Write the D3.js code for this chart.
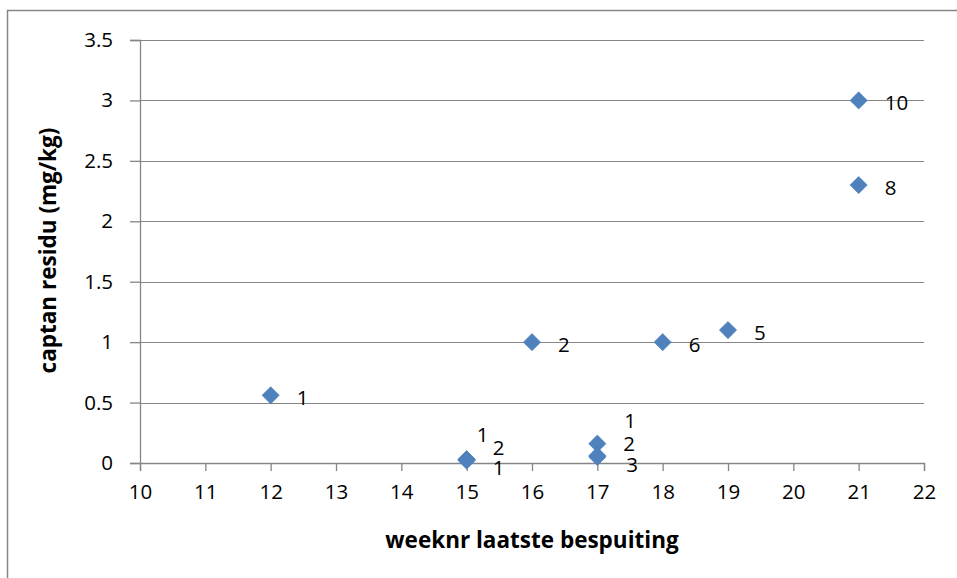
<!DOCTYPE html>
<html>
<head>
<meta charset="utf-8">
<script src="https://cdn.jsdelivr.net/npm/d3@7/dist/d3.min.js"></script>
<style>
  html, body { margin: 0; padding: 0; background: #fff; }
  svg { display: block; }
  text { font-family: "Open Sans", Lato, sans-serif; fill: #000; }
</style>
</head>
<body>
<svg id="chart" width="957" height="578"></svg>
<script>
// Week number of the last spray, captan residue (mg/kg) and number of samples
const weeks    = [12, 15, 15, 15, 16, 17, 17, 17, 18, 19, 21, 21];
const residues = [0.56, 0.03, 0.03, 0.02, 1.0, 0.16, 0.06, 0.05, 1.0, 1.1, 3.0, 2.3];
const counts   = [1, 1, 2, 1, 2, 1, 2, 3, 6, 5, 10, 8];

const xTicks = [10, 11, 12, 13, 14, 15, 16, 17, 18, 19, 20, 21, 22];
const yTicks = [0, 0.5, 1, 1.5, 2, 2.5, 3, 3.5];

const xTitle = "weeknr laatste bespuiting";
const yTitle = "captan residu (mg/kg)";

const svg = d3.select("#chart");
const W = 957, H = 578;
const plot = { left: 140, right: 924, top: 40, bottom: 463 };
const grey = "#868686";
const font = "'Open Sans', Lato, sans-serif";

// outer chart frame
svg.append("rect")
  .attr("x", 7.5).attr("y", 10.5)
  .attr("width", W + 10).attr("height", H + 10)
  .attr("fill", "none").attr("stroke", grey).attr("stroke-width", 1.5);

const x = d3.scaleLinear().domain([10, 22]).range([plot.left, plot.right]);
const y = d3.scaleLinear().domain([0, 3.5]).range([plot.bottom, plot.top]);

// horizontal gridlines
svg.append("g")
  .selectAll("line")
  .data(yTicks.filter(d => d > 0))
  .join("line")
  .attr("x1", plot.left).attr("x2", plot.right)
  .attr("y1", d => Math.round(y(d)) + 0.5).attr("y2", d => Math.round(y(d)) + 0.5)
  .attr("stroke", grey).attr("stroke-width", 1.2);

// y axis
const yAxis = svg.append("g")
  .attr("transform", `translate(${plot.left},0)`)
  .call(d3.axisLeft(y).tickValues(yTicks).tickSize(10).tickPadding(17)
    .tickFormat(d => String(d)));
yAxis.select(".domain").attr("stroke", grey).attr("stroke-width", 1.3);
yAxis.selectAll(".tick line").attr("stroke", grey).attr("stroke-width", 1.3);
yAxis.selectAll(".tick text")
  .attr("font-size", 20.5).attr("font-family", font).attr("fill", "#000");

// x axis
const xAxis = svg.append("g")
  .attr("transform", `translate(0,${plot.bottom})`)
  .call(d3.axisBottom(x).tickValues(xTicks).tickSize(8).tickPadding(13)
    .tickFormat(d3.format("d")));
xAxis.select(".domain").attr("stroke", grey).attr("stroke-width", 1.3);
xAxis.selectAll(".tick line").attr("stroke", grey).attr("stroke-width", 1.3);
xAxis.selectAll(".tick text")
  .attr("font-size", 20.5).attr("font-family", font).attr("fill", "#000");

// points
const pts = weeks.map((w, i) => ({ w, r: residues[i], n: counts[i], i }));
const diamond = d3.symbol().type(d3.symbolDiamond2).size(190);
svg.append("g")
  .selectAll("path")
  .data(pts)
  .join("path")
  .attr("d", diamond)
  .attr("transform", d => `translate(${x(d.w)},${y(d.r)})`)
  .attr("fill", "#4f81bd")
  .attr("stroke", "#4a7ebb")
  .attr("stroke-width", 0.6);

// sample-count labels; crowded ones near zero are nudged apart
const labelNudge = {
  1: [10, -25], 2: [26, -12], 3: [26, 6],
  5: [27, -24], 6: [26, -13], 7: [29, 7]
};
svg.append("g")
  .selectAll("text")
  .data(pts)
  .join("text")
  .attr("x", d => x(d.w) + (labelNudge[d.i] ? labelNudge[d.i][0] : 26))
  .attr("y", d => y(d.r) + (labelNudge[d.i] ? labelNudge[d.i][1] : 2))
  .attr("dominant-baseline", "central")
  .attr("font-size", 20.5)
  .text(d => d.n);

// axis titles
svg.append("text")
  .attr("x", 532)
  .attr("y", 539)
  .attr("text-anchor", "middle")
  .attr("dominant-baseline", "central")
  .attr("font-size", 22.5).attr("font-weight", "bold")
  .text(xTitle);

svg.append("text")
  .attr("transform", `translate(47,${(plot.top + plot.bottom) / 2 - 1}) rotate(-90)`)
  .attr("text-anchor", "middle")
  .attr("dominant-baseline", "central")
  .attr("font-size", 22.5).attr("font-weight", "bold")
  .text(yTitle);
</script>
</body>
</html>
